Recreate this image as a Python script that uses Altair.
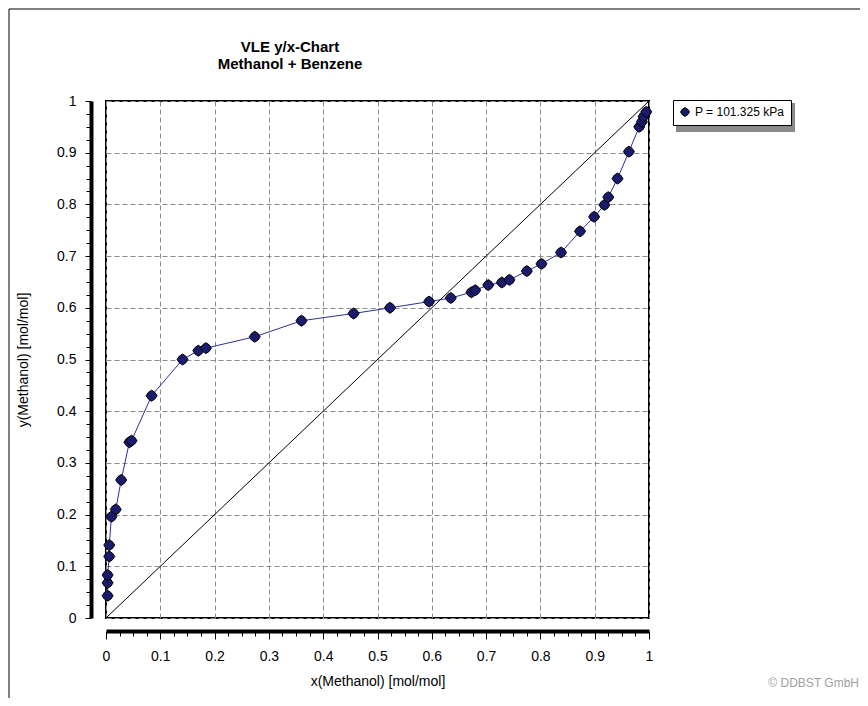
import altair as alt
import pandas as pd

# ---- data ----
x_methanol = [0.003, 0.003, 0.003, 0.006, 0.006, 0.010, 0.018, 0.028, 0.043, 0.047,
              0.084, 0.141, 0.170, 0.184, 0.274, 0.360, 0.456, 0.523, 0.595, 0.635,
              0.673, 0.680, 0.704, 0.729, 0.743, 0.775, 0.802, 0.838, 0.873, 0.899,
              0.918, 0.925, 0.942, 0.963, 0.982, 0.987, 0.990, 0.995]
y_methanol = [0.043, 0.068, 0.083, 0.119, 0.141, 0.196, 0.210, 0.267, 0.340, 0.343,
              0.430, 0.500, 0.517, 0.522, 0.544, 0.575, 0.589, 0.600, 0.612, 0.619,
              0.630, 0.634, 0.644, 0.649, 0.654, 0.671, 0.685, 0.707, 0.748, 0.776,
              0.799, 0.814, 0.850, 0.902, 0.950, 0.960, 0.970, 0.979]
series_name = "P = 101.325 kPa"
diag_x = [0.0, 1.0]
diag_y = [0.0, 1.0]
major_ticks = [0, 0.1, 0.2, 0.3, 0.4, 0.5, 0.6, 0.7, 0.8, 0.9, 1.0]
minor_ticks = [0.025, 0.05, 0.075, 0.125, 0.15, 0.175, 0.225, 0.25, 0.275,
               0.325, 0.35, 0.375, 0.425, 0.45, 0.475, 0.525, 0.55, 0.575,
               0.625, 0.65, 0.675, 0.725, 0.75, 0.775, 0.825, 0.85, 0.875,
               0.925, 0.95, 0.975]
title_lines = ["VLE y/x-Chart", "Methanol + Benzene"]
x_title = "x(Methanol) [mol/mol]"
y_title = "y(Methanol) [mol/mol]"
copyright_text = "© DDBST GmbH"

pts = pd.DataFrame({"x": x_methanol, "y": y_methanol,
                    "order": list(range(len(x_methanol))),
                    "series": [series_name] * len(x_methanol)})
diag = pd.DataFrame({"x": diag_x, "y": diag_y})

NARROW = "Liberation Sans Narrow, Arial Narrow, Liberation Sans, Arial, sans-serif"
SANS = "Liberation Sans, Arial, sans-serif"
MARKER = "M0,-1L0.6,-0.6L1,0L0.6,0.6L0,1L-0.6,0.6L-1,0L-0.6,-0.6Z"

xs = alt.Scale(domain=[0, 1], nice=False, zero=False)
ys = alt.Scale(domain=[0, 1], nice=False, zero=False)

grid_common = dict(values=major_ticks, grid=True, gridColor="#8c8c8c",
                   gridDash=[5, 3], gridWidth=1, domain=False, ticks=False,
                   labels=False, title=None)
grid_x = alt.Axis(orient="bottom", **grid_common)
grid_y = alt.Axis(orient="left", **grid_common)

major_x = alt.Axis(orient="bottom", values=major_ticks, offset=13, grid=False,
                   domainColor="black", domainWidth=4, tickColor="black",
                   tickSize=8, tickWidth=1, labelFont=NARROW, labelFontSize=14,
                   labelColor="black", labelPadding=10, format=".1~f",
                   labelFlush=False, title=x_title, titleFont=NARROW,
                   titleFontSize=14, titleFontWeight="normal", titleColor="black",
                   titlePadding=11)
major_y = alt.Axis(orient="left", values=major_ticks, offset=15, grid=False,
                   domainColor="black", domainWidth=4, tickColor="black",
                   tickSize=6, tickWidth=1, labelFont=NARROW, labelFontSize=14,
                   labelColor="black", labelPadding=9, format=".1~f",
                   labelFlush=False, title=y_title, titleFont=NARROW,
                   titleFontSize=14, titleFontWeight="normal", titleColor="black",
                   titlePadding=26)
minor_x = alt.Axis(orient="bottom", values=minor_ticks, offset=13, grid=False,
                   domain=False, tickColor="black", tickSize=5, tickWidth=1,
                   labels=False, title=None)
minor_y = alt.Axis(orient="left", values=minor_ticks, offset=15, grid=False,
                   domain=False, tickColor="black", tickSize=5, tickWidth=1,
                   labels=False, title=None)

diag_layer = alt.Chart(diag).mark_line(color="black", strokeWidth=1).encode(
    x=alt.X("x:Q", scale=xs, axis=grid_x),
    y=alt.Y("y:Q", scale=ys, axis=grid_y),
)

line_layer = alt.Chart(pts).mark_line(color="#2e2e9c", strokeWidth=1).encode(
    x=alt.X("x:Q", scale=xs, axis=major_x),
    y=alt.Y("y:Q", scale=ys, axis=major_y),
    order="order:Q",
)

point_layer = alt.Chart(pts).mark_point(
    filled=True, shape=MARKER, size=120, stroke="black", strokeWidth=1, opacity=1
).encode(
    x=alt.X("x:Q", scale=xs, axis=minor_x),
    y=alt.Y("y:Q", scale=ys, axis=minor_y),
    color=alt.Color("series:N", scale=alt.Scale(range=["#1b1b6e"]),
                    legend=alt.Legend(title=None, orient="none", legendX=567,
                                      legendY=-1, strokeColor="black",
                                      fillColor="white", padding=6,
                                      labelFont=SANS, labelFontSize=12,
                                      labelColor="black", symbolType=MARKER,
                                      symbolSize=80, symbolStrokeColor="black",
                                      symbolStrokeWidth=1, symbolOpacity=1)),
)

one = pd.DataFrame({"t": [copyright_text]})
title_df = pd.DataFrame({"t": ["\n".join(title_lines)]})

title_text = alt.Chart(title_df).mark_text(
    align="center", baseline="middle", lineBreak="\n", lineHeight=17,
    font=NARROW, fontSize=15, fontWeight="bold", color="black"
).encode(x=alt.value(184), y=alt.value(-54), text="t:N")
shadow = alt.Chart(one).mark_rect(color="#8a8a8a").encode(
    x=alt.value(570), x2=alt.value(689), y=alt.value(2), y2=alt.value(31))
copyright = alt.Chart(one).mark_text(
    align="right", baseline="middle", font=SANS, fontSize=12, color="#a0a0a0"
).encode(x=alt.value(753), y=alt.value(582), text="t:N")
frame_top = alt.Chart(one).mark_rule(color="black", strokeWidth=1).encode(
    x=alt.value(-97), x2=alt.value(760), y=alt.value(-92))
frame_left = alt.Chart(one).mark_rule(color="black", strokeWidth=1).encode(
    x=alt.value(-97), y=alt.value(-92), y2=alt.value(600))

chart = alt.layer(
    shadow, diag_layer, line_layer, point_layer, copyright, title_text,
    frame_top, frame_left
).resolve_axis(x="independent", y="independent").properties(
    width=543, height=517,
    autosize=alt.AutoSizeParams(type="none"),
    padding={"left": 98, "top": 93, "right": 211, "bottom": 80},
    background="white",
).configure_view(stroke="black", strokeWidth=2)

chart.save("out.html", embed_options={"renderer": "svg", "actions": False})
